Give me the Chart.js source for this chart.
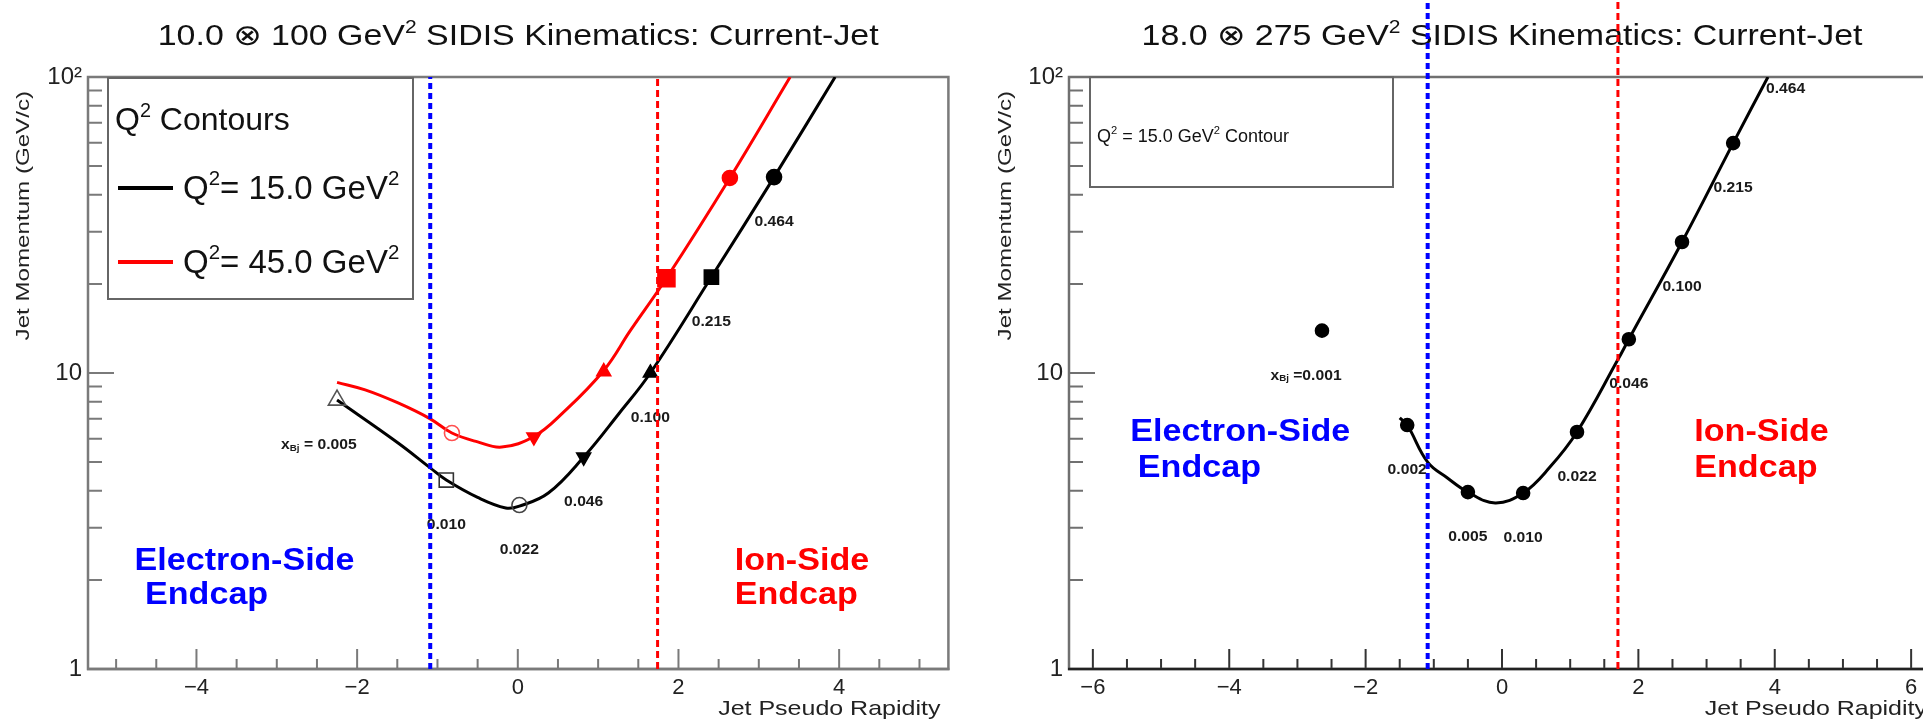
<!DOCTYPE html>
<html>
<head>
<meta charset="utf-8">
<title>SIDIS Kinematics: Current-Jet</title>
<script src="https://cdn.jsdelivr.net/npm/chart.js@4.4.1/dist/chart.umd.min.js"></script>
<style>
  html, body { margin: 0; padding: 0; background: #fff; overflow: hidden; }
  #page { position: relative; width: 1923px; height: 722px; overflow: hidden; }
  #low { position: absolute; left: 0; top: 0; }
  #high { position: absolute; left: 960px; top: 0; }
</style>
</head>
<body>
<div id="page">
  <canvas id="low" width="960" height="722"></canvas>
  <canvas id="high" width="990" height="722"></canvas>
</div>
<script>
// ---- 10 x 100 GeV^2 : Q^2 contours, jet pseudo rapidity vs jet momentum (GeV/c)
const lowEtaQ15 = [-2.25, -1.49, -1.09, -0.89, -0.50, -0.15, 0.02, 0.38, 0.82, 1.26, 1.65, 2.41, 3.19, 3.95];
const lowPQ15 = [8.1, 5.8, 4.78, 4.35, 3.8, 3.5, 3.55, 3.93, 5.2, 7.3, 10.0, 21.1, 45.9, 100];
const lowEtaQ45 = [-2.25, -1.90, -1.49, -1.09, -0.82, -0.50, -0.20, 0.20, 0.56, 1.07, 1.40, 1.85, 2.64, 3.39];
const lowPQ45 = [9.3, 8.77, 7.92, 7.0, 6.27, 5.85, 5.62, 6.1, 7.33, 10.2, 13.9, 20.9, 45.6, 100];

// x_Bj markers on each contour
const lowMarkEtaQ15 = [-2.25, -0.89, 0.02, 0.82, 1.65, 2.41, 3.19];
const lowMarkPQ15 = [8.1, 4.35, 3.58, 5.2, 10.0, 21.1, 45.9];
const lowMarkEtaQ45 = [-0.82, 0.20, 1.07, 1.85, 2.64];
const lowMarkPQ45 = [6.27, 6.08, 10.1, 20.9, 45.6];
const lowXbj = ['0.005', '0.010', '0.022', '0.046', '0.100', '0.215', '0.464'];

// ---- 18 x 275 GeV^2 : Q^2 = 15 contour
const highEta = [-1.50, -1.39, -1.09, -0.80, -0.50, -0.10, 0.31, 0.70, 1.10, 1.70, 1.86, 2.64, 3.39, 3.90];
const highP = [7.05, 6.67, 5.0, 4.42, 3.96, 3.64, 3.93, 4.8, 6.32, 11.1, 13.0, 27.7, 59.8, 100];
const highMarkEta = [-2.64, -1.39, -0.50, 0.31, 1.10, 1.86, 2.64, 3.39, 4.16];
const highMarkP = [13.9, 6.67, 3.96, 3.93, 6.32, 13.0, 27.7, 59.8, 129];
const highXbj = ['0.001', '0.002', '0.005', '0.010', '0.022', '0.046', '0.100', '0.215', '0.464'];

// endcap boundaries in eta (left panel, right panel)
const electronEdge = [-1.09, -1.09];
const ionEdge = [1.74, 1.70];

const lowXTicks = [-4, -2, 0, 2, 4];
const highXTicks = [-6, -4, -2, 0, 2, 4, 6];
const yTicks = [1, 10, 100];

const FONT = '"Liberation Sans", "DejaVu Sans", Arial, sans-serif';
const pts = (xs, ys) => xs.map((v, i) => ({ x: v, y: ys[i] }));

// split "GeV^{2}" / "x_{Bj}" into plain, super and sub pieces
function segments(str) {
  const out = [];
  const re = /([\^_])\{([^}]*)\}/g;
  let last = 0, m;
  while ((m = re.exec(str))) {
    if (m.index > last) out.push({ t: str.slice(last, m.index), k: '' });
    out.push({ t: m[2], k: m[1] });
    last = re.lastIndex;
  }
  if (last < str.length) out.push({ t: str.slice(last), k: '' });
  return out;
}

// ROOT-ish text: wide helvetica, optional stretch along the text direction
function rich(ctx, str, x, y, o) {
  const size = o.size, sx = o.sx || 1, weight = o.bold ? 'bold ' : '';
  const segs = segments(str).map(s => {
    const sz = s.k ? size * 0.62 : size;
    ctx.font = weight + sz + 'px ' + FONT;
    return { t: s.t, k: s.k, sz, w: ctx.measureText(s.t).width };
  });
  const total = segs.reduce((a, s) => a + s.w, 0);
  ctx.save();
  ctx.translate(x, y);
  if (o.rotate) ctx.rotate(o.rotate);
  ctx.scale(sx, 1);
  let cx = o.align === 'right' ? -total : o.align === 'center' ? -total / 2 : 0;
  ctx.fillStyle = o.color || '#111';
  ctx.textBaseline = o.baseline || 'alphabetic';
  ctx.textAlign = 'left';
  for (const s of segs) {
    ctx.font = weight + s.sz + 'px ' + FONT;
    const dy = s.k === '^' ? -size * 0.42 : s.k === '_' ? size * 0.22 : 0;
    ctx.fillText(s.t, cx, dy);
    cx += s.w;
  }
  ctx.restore();
}

// frame, inward ticks and all the pad text, drawn under the graphs
function makePad(cfg) {
  return {
    id: 'rootPad',
    beforeDatasetsDraw(chart) {
      const { ctx, chartArea: a, scales: { x, y } } = chart;
      ctx.save();
      ctx.lineWidth = 2;

      ctx.strokeStyle = cfg.xTickColor;
      ctx.beginPath();
      for (let v = Math.ceil(x.min * 2) / 2; v <= x.max; v += 0.5) {
        const px = x.getPixelForValue(v);
        ctx.moveTo(px, a.bottom);
        ctx.lineTo(px, a.bottom - (v % 2 === 0 ? 20 : 10));
      }
      ctx.stroke();

      ctx.strokeStyle = cfg.frameColor;
      ctx.beginPath();
      for (let d = 1; d < 100; d *= 10) {
        for (let m = 1; m < 10; m++) {
          if (d * m === 1) continue;
          const py = y.getPixelForValue(d * m);
          ctx.moveTo(a.left, py);
          ctx.lineTo(a.left + (m === 1 ? 26 : 14), py);
        }
      }
      ctx.stroke();

      ctx.lineWidth = 2.5;
      ctx.strokeRect(a.left, a.top, a.right - a.left, a.bottom - a.top);
      ctx.strokeStyle = cfg.bottomColor;
      ctx.beginPath();
      ctx.moveTo(a.left - 1, a.bottom);
      ctx.lineTo(a.right + 1, a.bottom);
      ctx.stroke();

      // titles
      rich(ctx, cfg.title, (a.left + a.right) / 2, 45, { size: 29, sx: 1.17, align: 'center' });
      rich(ctx, 'Jet Momentum (GeV/c)', cfg.yTitleX, a.top + 14,
        { size: 19, sx: 1.27, rotate: -Math.PI / 2, align: 'right', baseline: 'middle', color: '#222' });
      rich(ctx, 'Jet Pseudo Rapidity', a.right - 8, 715, { size: 21, sx: 1.19, align: 'right', color: '#222' });

      // legend box
      const lg = cfg.legend;
      ctx.lineWidth = 2;
      ctx.strokeStyle = '#666';
      ctx.strokeRect(lg.box[0], lg.box[1], lg.box[2], lg.box[3]);
      lg.samples.forEach(s => {
        ctx.strokeStyle = s.color;
        ctx.lineWidth = 4;
        ctx.beginPath();
        ctx.moveTo(s.x0, s.y);
        ctx.lineTo(s.x1, s.y);
        ctx.stroke();
      });
      lg.lines.forEach(l => rich(ctx, l.text, l.x, l.y, { size: l.size, color: '#111' }));

      // detector regions
      cfg.zones.forEach(z => rich(ctx, z.text, x.getPixelForValue(z.eta), y.getPixelForValue(z.p),
        { size: 31, sx: 1.1, bold: true, color: z.color }));

      // x_Bj labels, hung under their markers
      const xb = cfg.xbj;
      xb.eta.forEach((e, i) => {
        const px = x.getPixelForValue(e), py = y.getPixelForValue(xb.p[i]) + 45;
        if (py < a.top || py > a.bottom) return;
        let str = xb.text[i], shift = 0;
        if (i === 0) {
          ctx.font = 'bold 14px ' + FONT;
          shift = ctx.measureText(str).width * 1.12 / 2;
          str = xb.prefix + str;
        }
        rich(ctx, str, px + shift, py, {
          size: 14, sx: 1.12, bold: true, align: i === 0 ? 'right' : 'center', baseline: 'middle', color: '#1a1a1a'
        });
      });
      ctx.restore();
    }
  };
}

function vline(eta, top, color, dash, width, free) {
  return {
    type: 'line', data: [{ x: eta, y: 1 }, { x: eta, y: top }],
    borderColor: color, borderDash: dash, borderWidth: width, pointRadius: 0,
    clip: free ? false : undefined
  };
}

function curve(xs, ys, color) {
  return {
    type: 'line', data: pts(xs, ys), borderColor: color, borderWidth: 3,
    pointRadius: 0, tension: 0.4, fill: false
  };
}

function markers(xs, ys, st) {
  return {
    type: 'line', data: pts(xs, ys), showLine: false,
    pointStyle: st.style, pointRotation: st.rot, pointRadius: st.r,
    pointBackgroundColor: st.fill, pointBorderColor: st.edge, pointBorderWidth: 1.6
  };
}

function padChart(id, o) {
  return new Chart(document.getElementById(id), {
    type: 'line',
    data: { datasets: o.datasets },
    options: {
      responsive: false,
      animation: false,
      events: [],
      layout: { padding: { top: 77, right: o.padRight, left: 0, bottom: 0 } },
      plugins: { legend: { display: false }, title: { display: false }, tooltip: { enabled: false } },
      scales: {
        x: {
          type: 'linear', min: o.xMin, max: o.xMax,
          grid: { display: false, drawTicks: false }, border: { display: false },
          afterBuildTicks: s => { s.ticks = o.xTicks.map(v => ({ value: v })); },
          afterFit: s => { s.height = 53; },
          ticks: {
            padding: 6, color: '#222', font: { family: FONT, size: 22 },
            callback: v => (v < 0 ? '\u2212' + (-v) : String(v))
          }
        },
        y: {
          type: 'logarithmic', min: 1, max: 100,
          grid: { display: false, drawTicks: false }, border: { display: false },
          afterBuildTicks: s => { s.ticks = yTicks.map(v => ({ value: v })); },
          afterFit: s => { s.width = o.yWidth; },
          ticks: {
            padding: 6, color: '#222', font: { family: FONT, size: 24 },
            callback: v => (v === 100 ? '10\u00b2' : String(v))
          }
        }
      }
    },
    plugins: [makePad(o.pad)]
  });
}

const open = 'rgba(0,0,0,0)';

padChart('low', {
  xMin: -5.35, xMax: 5.36, xTicks: lowXTicks, yWidth: 88, padRight: 7,
  datasets: [
    vline(electronEdge[0], 100, '#0000ff', [6, 4], 4, false),
    vline(ionEdge[0], 100, '#ff0000', [7, 4], 3, false),
    markers(lowMarkEtaQ15, lowMarkPQ15, {
      style: ['triangle', 'rect', 'circle', 'triangle', 'triangle', 'rect', 'circle'],
      rot: [0, 0, 0, 180, 0, 0, 0],
      r: [10, 10, 7.5, 8, 8, 10, 7.5],
      fill: [open, open, open, '#000', '#000', '#000', '#000'],
      edge: ['#555', '#333', '#444', '#000', '#000', '#000', '#000']
    }),
    markers(lowMarkEtaQ45, lowMarkPQ45, {
      style: ['circle', 'triangle', 'triangle', 'rect', 'circle'],
      rot: [0, 180, 0, 0, 0],
      r: [7.5, 8, 8, 12, 7.5],
      fill: [open, '#ff0000', '#ff0000', '#ff0000', '#ff0000'],
      edge: ['#ff5050', '#ff0000', '#ff0000', '#ff0000', '#ff0000']
    }),
    curve(lowEtaQ15, lowPQ15, '#000'),
    curve(lowEtaQ45, lowPQ45, '#ff0000')
  ],
  pad: {
    title: '10.0 \u2297 100 GeV^{2} SIDIS Kinematics: Current-Jet',
    yTitleX: 24, frameColor: '#7a7a7a', bottomColor: '#7a7a7a', xTickColor: '#7a7a7a',
    legend: {
      box: [108, 78, 305, 221],
      samples: [{ x0: 118, x1: 173, y: 188, color: '#000' }, { x0: 118, x1: 173, y: 262, color: '#ff0000' }],
      lines: [
        { text: 'Q^{2} Contours', x: 115, y: 130, size: 32 },
        { text: 'Q^{2}= 15.0 GeV^{2}', x: 183, y: 199, size: 33 },
        { text: 'Q^{2}= 45.0 GeV^{2}', x: 183, y: 273, size: 33 }
      ]
    },
    zones: [
      { text: 'Electron-Side', color: '#0000ff', eta: -4.77, p: 2.16 },
      { text: 'Endcap', color: '#0000ff', eta: -4.64, p: 1.66 },
      { text: 'Ion-Side', color: '#ff0000', eta: 2.70, p: 2.16 },
      { text: 'Endcap', color: '#ff0000', eta: 2.70, p: 1.66 }
    ],
    xbj: { eta: lowMarkEtaQ15, p: lowMarkPQ15, text: lowXbj, prefix: 'x_{Bj} = ' }
  }
});

padChart('high', {
  xMin: -6.35, xMax: 6.35, xTicks: highXTicks, yWidth: 109, padRight: 15,
  datasets: [
    vline(electronEdge[1], 250, '#0000ff', [6, 4], 4, true),
    vline(ionEdge[1], 250, '#ff0000', [7, 4], 3, true),
    markers(highMarkEta, highMarkP, {
      style: 'circle', rot: 0, r: 6.5, fill: '#000', edge: '#000'
    }),
    curve(highEta, highP, '#000')
  ],
  pad: {
    title: '18.0 \u2297 275 GeV^{2} SIDIS Kinematics: Current-Jet',
    yTitleX: 46, frameColor: '#707070', bottomColor: '#222', xTickColor: '#333',
    legend: {
      box: [130, 77, 303, 110],
      samples: [],
      lines: [{ text: 'Q^{2} = 15.0 GeV^{2} Contour', x: 137, y: 142, size: 18 }]
    },
    zones: [
      { text: 'Electron-Side', color: '#0000ff', eta: -5.45, p: 5.89 },
      { text: 'Endcap', color: '#0000ff', eta: -5.34, p: 4.45 },
      { text: 'Ion-Side', color: '#ff0000', eta: 2.82, p: 5.89 },
      { text: 'Endcap', color: '#ff0000', eta: 2.82, p: 4.45 }
    ],
    xbj: { eta: highMarkEta, p: highMarkP, text: highXbj, prefix: 'x_{Bj} =' }
  }
});
</script>
</body>
</html>
